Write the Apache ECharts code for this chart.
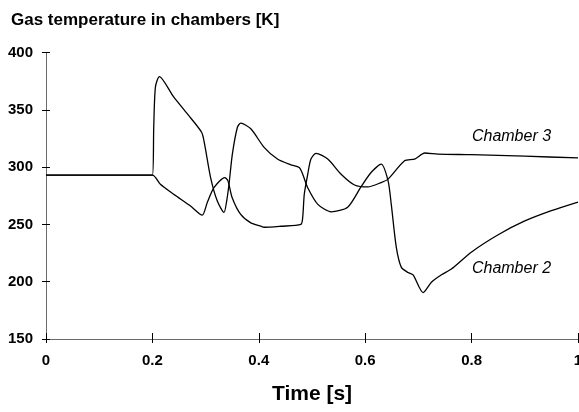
<!DOCTYPE html>
<html>
<head>
<meta charset="utf-8">
<script src="https://cdn.jsdelivr.net/npm/echarts@6/dist/echarts.min.js"></script>
<style>
  html, body { margin: 0; padding: 0; background: #fff; }
  #chart { width: 579px; height: 412px; }
</style>
</head>
<body>
<div id="chart"></div>
<script>
// time [s] and temperature [K]
var chamber2T = [0, 0.2, 0.2025, 0.2057, 0.2132, 0.24, 0.2654, 0.2925, 0.298, 0.3094, 0.322, 0.3346,
  0.3396, 0.344, 0.3503, 0.3598, 0.366, 0.385, 0.41, 0.435, 0.46, 0.476, 0.4825, 0.492, 0.511, 0.536,
  0.567, 0.592, 0.611, 0.630, 0.643, 0.649, 0.6585, 0.668, 0.6806, 0.690, 0.709, 0.7245, 0.7434, 0.762,
  0.80, 0.85, 0.90, 0.95, 1.0];
var chamber2K = [293, 293, 334.8, 370, 379, 361.2, 346.6, 330.4, 320.2, 290.9, 270.4, 260.5,
  270.4, 285, 311.4, 334.8, 338.3, 333.4, 317.2, 307, 302, 299.7, 293.8, 282, 267.5, 261,
  265, 282.7, 295.3, 302.6, 288, 267.5, 230, 212.5, 208, 206, 190.5, 199.5, 206, 211,
  226, 241, 253, 262, 269.5];

var chamber3T = [0, 0.2, 0.215, 0.24, 0.2717, 0.2937, 0.303, 0.3157, 0.336, 0.342, 0.35, 0.366, 0.385,
  0.404, 0.41, 0.4415, 0.479, 0.4825, 0.4855, 0.492, 0.498, 0.5075, 0.5296, 0.5547, 0.58, 0.605,
  0.630, 0.643, 0.674, 0.693, 0.712, 0.737, 0.80, 0.9, 1.0];
var chamber3K = [293, 293, 285, 276.3, 266, 258.1, 268.9, 282, 290.9, 288, 273.3, 258.7, 251.3,
  248.4, 247.5, 248.4, 250, 256, 276.3, 293.8, 307, 312, 307, 293.8, 284.4, 282.7,
  286.5, 289.5, 305.5, 307, 312.3, 311.4, 310.8, 309.5, 308];

var xTicks = [0, 0.2, 0.4, 0.6, 0.8, 1];
var yTicks = [150, 200, 250, 300, 350, 400];

function zip(a, b) {
  return a.map(function (v, i) { return [v, b[i]]; });
}

var font = 'Liberation Sans, Arial, sans-serif';
var axisCol = '#6b6b6b';

var chart = echarts.init(document.getElementById('chart'));

var baseX = {
  type: 'value', min: 0, max: 1, interval: 0.2,
  axisLine: { show: true, lineStyle: { color: axisCol, width: 1 } },
  splitLine: { show: false }
};
var baseY = {
  type: 'value', min: 150, max: 400, interval: 50,
  axisLine: { show: true, lineStyle: { color: axisCol, width: 1 } },
  splitLine: { show: false }
};

chart.setOption({
  animation: false,
  title: {
    text: 'Gas temperature in chambers [K]',
    left: 6, top: 7,
    textStyle: { fontFamily: font, fontSize: 17, fontWeight: 'bold', color: '#000' }
  },
  grid: { left: 46, right: 1, top: 52.5, bottom: 73, containLabel: false, outerBoundsMode: 'none' },
  xAxis: [
    Object.assign({}, baseX, {
      name: 'Time [s]', nameLocation: 'middle', nameGap: 45,
      nameTextStyle: { fontFamily: font, fontSize: 21, fontWeight: 'bold', color: '#000' },
      axisTick: { show: true, length: 4, lineStyle: { color: '#000' } },
      axisLabel: {
        margin: 14, fontFamily: font, fontSize: 15, fontWeight: 'bold', color: '#000',
        formatter: function (v) { return xTicks.indexOf(+v.toFixed(1)) >= 0 ? String(+v.toFixed(1)) : ''; }
      }
    }),
    Object.assign({}, baseX, {
      position: 'bottom',
      axisTick: { show: true, inside: true, length: 6, lineStyle: { color: '#000' } },
      axisLabel: { show: false }
    })
  ],
  yAxis: [
    Object.assign({}, baseY, {
      axisTick: { show: true, length: 4, lineStyle: { color: '#000' } },
      axisLabel: {
        margin: 13, fontFamily: font, fontSize: 15, fontWeight: 'bold', color: '#000',
        formatter: function (v) { return yTicks.indexOf(v) >= 0 ? String(v) : ''; }
      }
    }),
    Object.assign({}, baseY, {
      position: 'left',
      axisTick: { show: true, inside: true, length: 4, lineStyle: { color: '#000' } },
      axisLabel: { show: false }
    })
  ],
  series: [
    {
      name: 'Chamber 2', type: 'line', smooth: 0.25, symbol: 'none',
      data: zip(chamber2T, chamber2K),
      lineStyle: { color: '#000', width: 1.3 },
      markPoint: {
        symbolSize: 0,
        data: [{ coord: [0.875, 211.5], label: { show: true, formatter: 'Chamber 2' } }],
        label: { fontFamily: font, fontSize: 16, fontStyle: 'italic', color: '#000' }
      }
    },
    {
      name: 'Chamber 3', type: 'line', smooth: 0.25, symbol: 'none',
      data: zip(chamber3T, chamber3K),
      lineStyle: { color: '#000', width: 1.3 },
      markPoint: {
        symbolSize: 0,
        data: [{ coord: [0.875, 327], label: { show: true, formatter: 'Chamber 3' } }],
        label: { fontFamily: font, fontSize: 16, fontStyle: 'italic', color: '#000' }
      }
    }
  ]
});
</script>
</body>
</html>
